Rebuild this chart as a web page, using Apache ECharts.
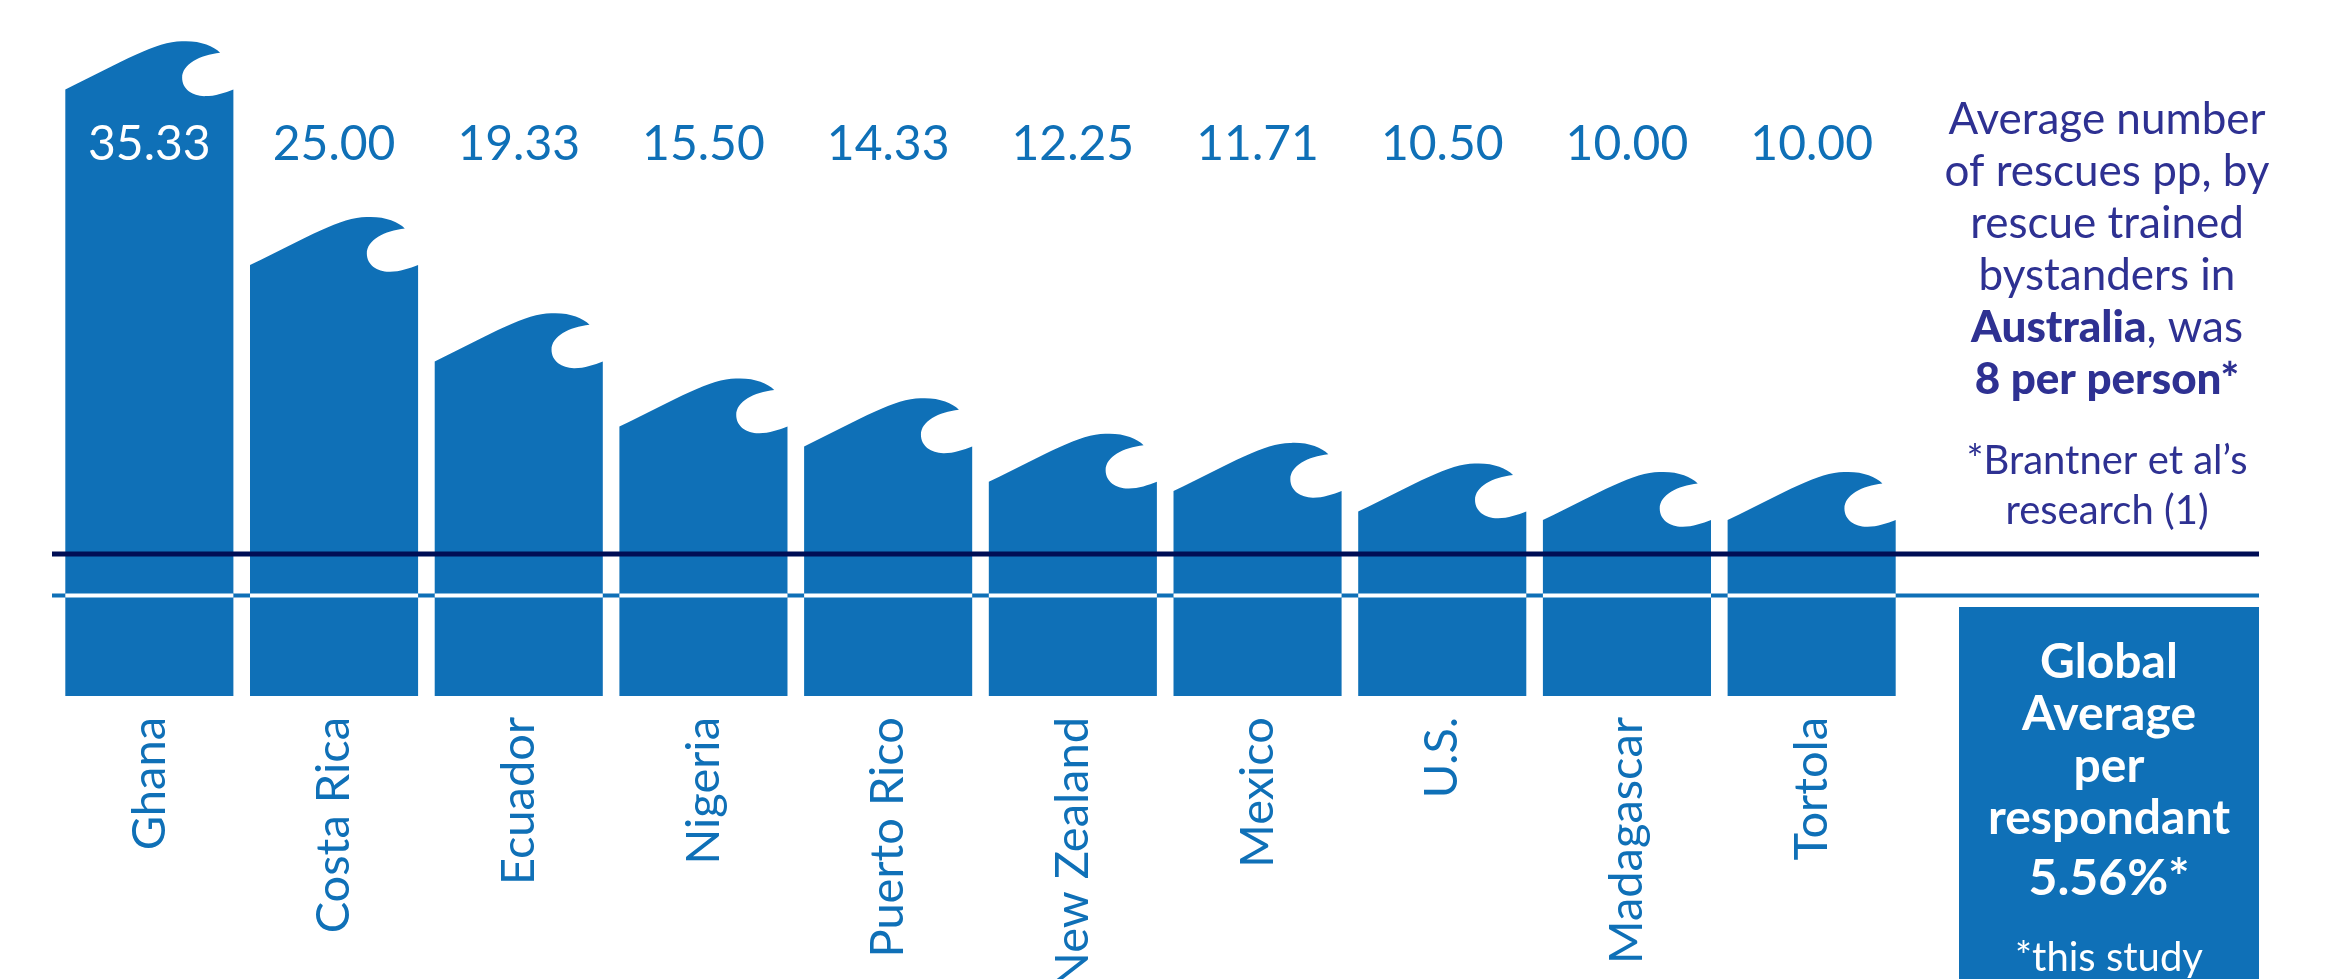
<!DOCTYPE html>
<html>
<head>
<meta charset="utf-8">
<script src="https://cdn.jsdelivr.net/npm/echarts@6/dist/echarts.min.js"></script>
<style>
html,body{margin:0;padding:0;background:#fff;}
#chart{width:2348px;height:979px;}
</style>
</head>
<body>
<div id="chart"></div>
<script>
// ---- data ----
const countries = ['Ghana','Costa Rica','Ecuador','Nigeria','Puerto Rico','New Zealand','Mexico','U.S.','Madagascar','Tortola'];
const rescues = [35.33, 25.00, 19.33, 15.50, 14.33, 12.25, 11.71, 10.50, 10.00, 10.00];
const australiaAvg = 8;      // dark reference line
const globalAvg = 5.56;      // light reference line
const panelLines = ['Average number','of rescues pp, by','rescue trained','bystanders in'];
const panelBold = ['Australia', '8 per person*'];
const footnote = ['*Brantner et al\u2019s','research (1)'];
const boxLines = ['Global','Average','per','respondant'];
const boxValue = '5.56%*';
const boxNote = '*this study';

// ---- style ----
const BLUE = '#0F70B7';
const NAVY = '#000E55';
const INDIGO = '#2E3192';
const FONT = 'Lato, "Noto Sans", sans-serif';
const Y_MIN = -0.35, Y_MAX = 40;
const LABEL_LEVEL = 32.1;
const BAR_RATIO = 0.91;

const chart = echarts.init(document.getElementById('chart'), null, {renderer:'canvas'});

function renderItem(params, api) {
  const i = api.value(0), v = api.value(1);
  const c = api.coord([i, v]);
  const base = api.coord([i, Y_MIN]);
  const band = api.size([1, 0])[0];
  const W = band * BAR_RATIO;
  const x0 = c[0] - W / 2, top = c[1], bottom = base[1];
  const P = (u, w) => (x0 + u * W).toFixed(2) + ' ' + (top + w * W).toFixed(2);
  const d = 'M ' + x0.toFixed(2) + ' ' + bottom.toFixed(2) +
    ' L ' + P(0, 0) +
    ' C ' + P(0.35, -0.17) + ' ' + P(0.55, -0.29) + ' ' + P(0.70, -0.286) +
    ' C ' + P(0.80, -0.29) + ' ' + P(0.88, -0.26) + ' ' + P(0.921, -0.218) +
    ' C ' + P(0.80, -0.205) + ' ' + P(0.695, -0.15) + ' ' + P(0.695, -0.069) +
    ' C ' + P(0.695, 0.0) + ' ' + P(0.76, 0.042) + ' ' + P(0.833, 0.040) +
    ' C ' + P(0.89, 0.040) + ' ' + P(0.95, 0.02) + ' ' + P(1, 0) +
    ' L ' + (x0 + W).toFixed(2) + ' ' + bottom.toFixed(2) + ' Z';
  const stripeY = api.coord([i, globalAvg])[1];
  const labelY = api.coord([i, LABEL_LEVEL])[1];
  const inside = v > LABEL_LEVEL;
  return {
    type: 'group',
    children: [
      { type: 'path', shape: { pathData: d }, style: { fill: BLUE } },
      { type: 'rect', shape: { x: x0, y: stripeY - 2, width: W, height: 4 }, style: { fill: '#ffffff' } },
      { type: 'text', x: c[0], y: labelY,
        style: { text: v.toFixed(2), fill: inside ? '#ffffff' : BLUE, font: '48px ' + FONT,
                 align: 'center', verticalAlign: 'middle' } }
    ]
  };
}

chart.setOption({
  animation: false,
  backgroundColor: '#ffffff',
  grid: { left: 57, width: 1847, top: 10, bottom: 283, containLabel: false, outerBoundsMode: 'none' },
  xAxis: {
    type: 'category', data: countries,
    axisLine: { show: false }, axisTick: { show: false },
    axisLabel: { rotate: 90, margin: 21, color: BLUE, fontSize: 47, fontFamily: FONT, interval: 0 }
  },
  yAxis: { type: 'value', min: Y_MIN, max: Y_MAX, show: false, splitLine: { show: false } },
  series: [{
    type: 'custom', renderItem: renderItem, z: 5,
    encode: { x: 0, y: 1 },
    data: rescues.map((v, i) => [i, v])
  }]
});

const yDark = chart.convertToPixel({ yAxisIndex: 0 }, australiaAvg);
const yLight = chart.convertToPixel({ yAxisIndex: 0 }, globalAvg);
const LINE_X0 = 52, LINE_X1 = 2259;
const PANEL_CX = 2107;

chart.setOption({
  graphic: [
    { type: 'rect', z: 0, shape: { x: LINE_X0, y: yLight - 2, width: LINE_X1 - LINE_X0, height: 4 }, style: { fill: BLUE } },
    { type: 'rect', z: 100, shape: { x: LINE_X0, y: yDark - 2.5, width: LINE_X1 - LINE_X0, height: 5 }, style: { fill: NAVY } },
    { type: 'text', z: 100, x: PANEL_CX, y: 94,
      style: {
        text: panelLines.map(s => '{n|' + s + '}').join('\n') + '\n{b|' + panelBold[0] + '}{n|, was}\n{b|' + panelBold[1] + '}',
        align: 'center', verticalAlign: 'top',
        rich: {
          n: { font: '44px ' + FONT, fill: INDIGO, lineHeight: 52, align: 'center' },
          b: { font: '900 44px ' + FONT, fill: INDIGO, lineHeight: 52, align: 'center' }
        }
      } },
    { type: 'text', z: 100, x: PANEL_CX, y: 436,
      style: { text: footnote.join('\n'), font: '40px ' + FONT, fill: INDIGO, lineHeight: 50, align: 'center', verticalAlign: 'top' } },
    { type: 'rect', z: 50, shape: { x: 1959, y: 607, width: 300, height: 400 }, style: { fill: BLUE } },
    { type: 'text', z: 100, x: 2109, y: 637,
      style: { text: boxLines.join('\n'), font: 'bold 48px ' + FONT, fill: '#ffffff', lineHeight: 52, align: 'center', verticalAlign: 'top' } },
    { type: 'text', z: 100, x: 2109, y: 879,
      style: { text: boxValue, font: 'bold 50px ' + FONT, fill: '#ffffff', align: 'center', verticalAlign: 'middle' } },
    { type: 'text', z: 100, x: 2109, y: 958,
      style: { text: boxNote, font: '40px ' + FONT, fill: '#ffffff', align: 'center', verticalAlign: 'middle' } }
  ]
});
</script>
</body>
</html>
